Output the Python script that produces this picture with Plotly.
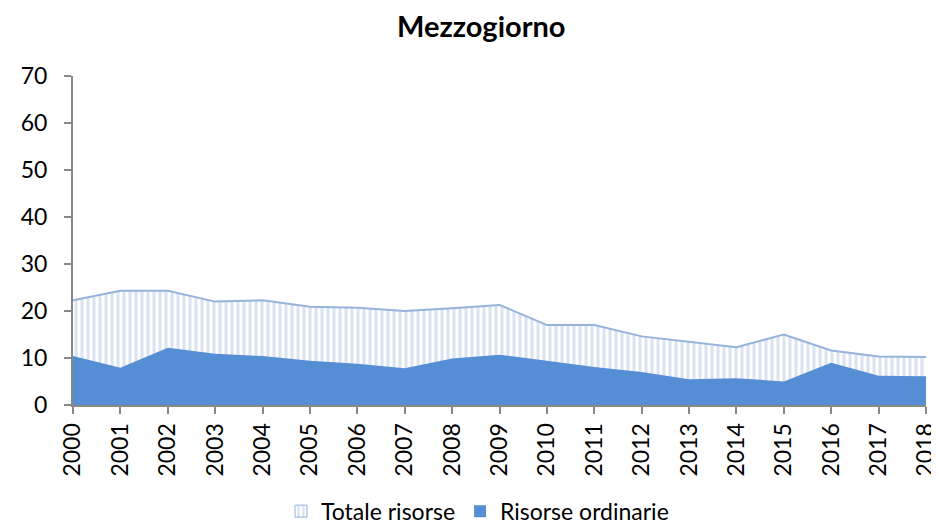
import plotly.graph_objects as go

years = list(range(2000, 2019))

totale_risorse = [22.3, 24.3, 24.3, 22.0, 22.3, 20.9, 20.7, 20.0, 20.6, 21.3,
                  17.0, 17.0, 14.6, 13.5, 12.3, 15.0, 11.6, 10.3, 10.2]

risorse_ordinarie = [10.4, 7.9, 12.2, 10.9, 10.4, 9.4, 8.8, 7.8, 9.9, 10.7,
                     9.4, 8.1, 7.0, 5.5, 5.7, 5.0, 9.0, 6.2, 6.1]

font_name = "Lato, Open Sans, sans-serif"
stripes = dict(shape="|", fgcolor="#b3c7e4", bgcolor="white", size=6, solidity=0.5)

fig = go.Figure()

# hatched total area
fig.add_trace(go.Scatter(
    x=years, y=totale_risorse, name="Totale risorse",
    mode="lines", fill="tozeroy", showlegend=False,
    line=dict(color="#95b3dc", width=2),
    fillcolor="#b3c7e4", fillpattern=stripes,
))

# ordinary resources on top
fig.add_trace(go.Scatter(
    x=years, y=risorse_ordinarie, name="Risorse ordinarie",
    mode="lines", fill="tozeroy", showlegend=False,
    line=dict(color="#558ed5", width=0),
    fillcolor="#558ed5",
))

# legend entries with square swatches
fig.add_trace(go.Bar(x=[None], y=[None], name="Totale risorse",
                     marker=dict(color="#b3c7e4", pattern=stripes,
                                 line=dict(color="#95b3dc", width=1))))
fig.add_trace(go.Bar(x=[None], y=[None], name="Risorse ordinarie",
                     marker=dict(color="#558ed5", line=dict(width=0))))

# page body adds an 8px offset, margins compensate for it
fig.update_layout(
    width=939, height=528,
    margin=dict(l=65, r=21, t=68, b=131),
    paper_bgcolor="white", plot_bgcolor="white",
    font=dict(family=font_name, size=22, color="black"),
    title=dict(text="<b>Mezzogiorno</b>", x=0.504, xanchor="center",
               y=0.964, yanchor="middle", font=dict(size=29)),
    showlegend=True,
    legend=dict(orientation="h", xref="container", yref="container",
                x=0.5, xanchor="center", y=0.047, yanchor="middle",
                font=dict(size=23), tracegroupgap=0),
)

fig.update_xaxes(
    range=[2000, 2018], tickvals=years, ticktext=[str(y) for y in years],
    tickangle=-90, showgrid=False, zeroline=False, automargin=False,
    showline=True, linecolor="#888888", linewidth=2,
    ticks="outside", ticklen=7, tickcolor="#888888", tickwidth=2,
    tickfont=dict(size=23),
)

fig.update_yaxes(
    range=[0, 70], dtick=10, showgrid=False, zeroline=False, automargin=False,
    showline=True, linecolor="#888888", linewidth=2,
    ticks="outside", ticklen=7, tickcolor="#888888", tickwidth=2,
    ticklabelstandoff=12, tickfont=dict(size=23),
)

fig.write_html("out.html")
